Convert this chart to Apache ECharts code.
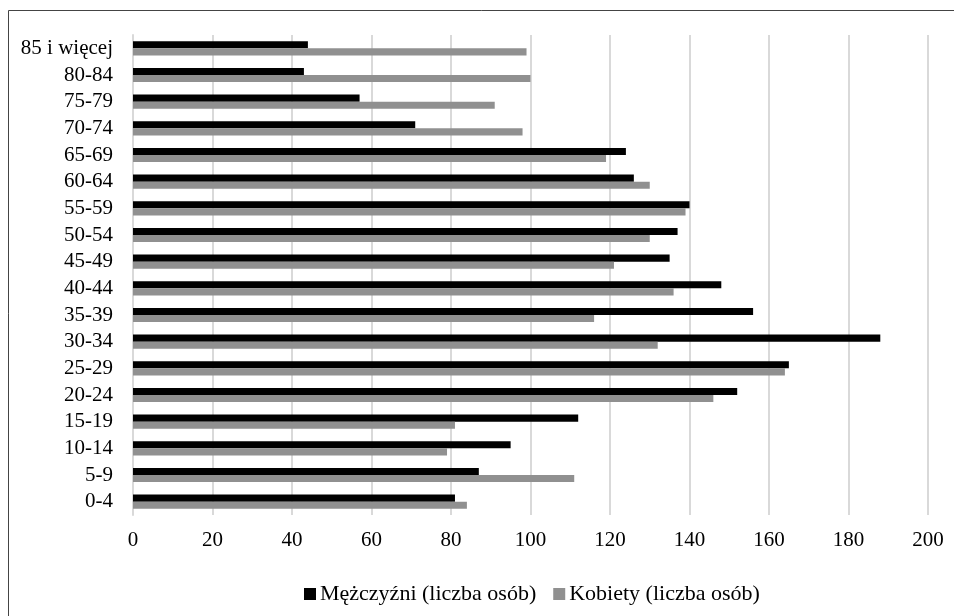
<!DOCTYPE html>
<html>
<head>
<meta charset="utf-8">
<script src="https://cdn.jsdelivr.net/npm/echarts@6/dist/echarts.min.js"></script>
<style>
html,body{margin:0;padding:0;background:#fff;}
#chart{width:954px;height:616px;}
</style>
</head>
<body>
<div id="chart"></div>
<script>
const categories = ['0-4','5-9','10-14','15-19','20-24','25-29','30-34','35-39','40-44','45-49','50-54','55-59','60-64','65-69','70-74','75-79','80-84','85 i więcej'];
const men   = [81, 87, 95, 112, 152, 165, 188, 156, 148, 135, 137, 140, 126, 124, 71, 57, 43, 44];
const women = [84, 111, 79, 81, 146, 164, 132, 116, 136, 121, 130, 139, 130, 119, 98, 91, 100, 99];
const xTicks = [0, 20, 40, 60, 80, 100, 120, 140, 160, 180, 200];
const seriesNames = ['Mężczyźni (liczba osób)', 'Kobiety (liczba osób)'];

const font = '"Liberation Serif", "Times New Roman", serif';
const chart = echarts.init(document.getElementById('chart'));
chart.setOption({
  animation: false,
  backgroundColor: '#fff',
  textStyle: { fontFamily: font },
  graphic: [{
    type: 'rect',
    shape: { x: 8.5, y: 10.5, width: 1000, height: 1000 },
    style: { fill: 'none', stroke: '#444', lineWidth: 1 },
    silent: true
  }],
  grid: { left: 133, right: 26, top: 35, bottom: 101, containLabel: false },
  legend: {
    data: seriesNames,
    top: 578,
    left: 299,
    itemWidth: 12,
    itemHeight: 12,
    itemGap: 17,
    icon: 'rect',
    textStyle: { fontFamily: font, fontSize: 22, color: '#000', padding: [0, 0, 0, -1] }
  },
  xAxis: {
    type: 'value',
    min: xTicks[0],
    max: xTicks[xTicks.length - 1],
    interval: xTicks[1] - xTicks[0],
    axisLine: { show: false },
    axisTick: { show: false },
    axisLabel: { fontFamily: font, fontSize: 21, color: '#000', margin: 15 },
    splitLine: { show: true, lineStyle: { color: '#d9d9d9', width: 2 } }
  },
  yAxis: {
    type: 'category',
    data: categories,
    axisLine: { show: true, lineStyle: { color: '#d9d9d9', width: 2 } },
    axisTick: { show: false },
    axisLabel: { fontFamily: font, fontSize: 21, color: '#000', margin: 20, interval: 0 },
    splitLine: { show: false }
  },
  series: [
    {
      name: seriesNames[0],
      type: 'bar',
      data: men,
      itemStyle: { color: '#000000' },
      barGap: '0%',
      barCategoryGap: '47%'
    },
    {
      name: seriesNames[1],
      type: 'bar',
      data: women,
      itemStyle: { color: '#909090' },
      barGap: '0%',
      barCategoryGap: '47%'
    }
  ]
});
</script>
</body>
</html>
